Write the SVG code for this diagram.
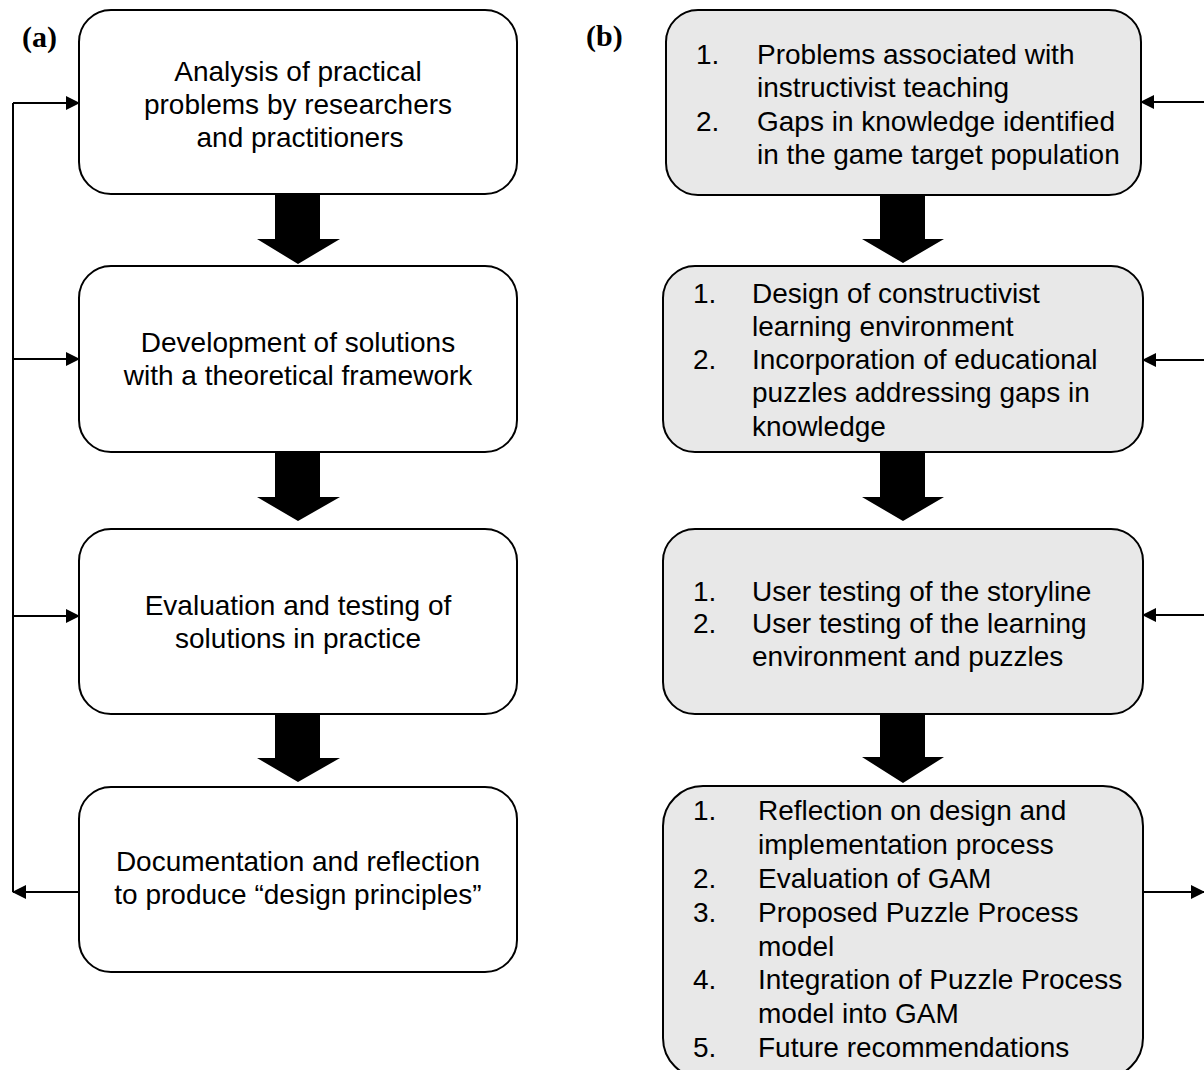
<svg xmlns="http://www.w3.org/2000/svg" width="1204" height="1070" viewBox="0 0 1204 1070">
<style>
.box{fill:#fff;stroke:#000;stroke-width:2}
.gbox{fill:#e8e8e8;stroke:#000;stroke-width:2}
.t{font-family:"Liberation Sans",Arial,sans-serif;font-size:28px;fill:#000}
.c{text-anchor:middle}
.lbl{font-family:"Liberation Serif","Times New Roman",serif;font-size:30px;font-weight:bold;fill:#000}
.ln{fill:none;stroke:#000;stroke-width:2}
.blk{fill:#000}
</style>
<defs>
<marker id="ah" markerWidth="14" markerHeight="14" refX="13" refY="7" orient="auto" markerUnits="userSpaceOnUse">
<path d="M0,0 L14,7 L0,14 Z" fill="#000"/>
</marker>
</defs>
<text class="lbl" x="22" y="47">(a)</text>
<text class="lbl" x="586" y="46">(b)</text>

<g id="a1"><rect class="box" x="79" y="10" width="438" height="184" rx="32"/>
<text class="t c" x="298" y="81">Analysis of practical</text>
<text class="t c" x="298" y="114">problems by researchers</text>
<text class="t c" x="300" y="147">and practitioners</text></g>
<g id="a2"><rect class="box" x="79" y="266" width="438" height="186" rx="32"/>
<text class="t c" x="298" y="352">Development of solutions</text>
<text class="t c" x="298" y="385">with a theoretical framework</text></g>
<g id="a3"><rect class="box" x="79" y="529" width="438" height="185" rx="32"/>
<text class="t c" x="298" y="615">Evaluation and testing of</text>
<text class="t c" x="298" y="648">solutions in practice</text></g>
<g id="a4"><rect class="box" x="79" y="787" width="438" height="185" rx="32"/>
<text class="t c" x="298" y="871">Documentation and reflection</text>
<text class="t c" x="298" y="904">to produce “design principles”</text></g>

<g id="b1"><rect class="gbox" x="666" y="10" width="475" height="185" rx="32"/>
<text class="t" x="696" y="64">1.</text><text class="t" x="757" y="64">Problems associated with</text>
<text class="t" x="757" y="97">instructivist teaching</text>
<text class="t" x="696" y="131">2.</text><text class="t" x="757" y="131">Gaps in knowledge identified</text>
<text class="t" x="757" y="164">in the game target population</text></g>
<g id="b2"><rect class="gbox" x="663" y="266" width="480" height="186" rx="32"/>
<text class="t" x="693" y="303">1.</text><text class="t" x="752" y="303">Design of constructivist</text>
<text class="t" x="752" y="336">learning environment</text>
<text class="t" x="693" y="369">2.</text><text class="t" x="752" y="369">Incorporation of educational</text>
<text class="t" x="752" y="402">puzzles addressing gaps in</text>
<text class="t" x="752" y="436">knowledge</text></g>
<g id="b3"><rect class="gbox" x="663" y="529" width="480" height="185" rx="32"/>
<text class="t" x="693" y="601">1.</text><text class="t" x="752" y="601">User testing of the storyline</text>
<text class="t" x="693" y="633">2.</text><text class="t" x="752" y="633">User testing of the learning</text>
<text class="t" x="752" y="666">environment and puzzles</text></g>
<g id="b4"><rect class="gbox" x="663" y="786" width="480" height="292" rx="40"/>
<text class="t" x="693" y="820">1.</text><text class="t" x="758" y="820">Reflection on design and</text>
<text class="t" x="758" y="854">implementation process</text>
<text class="t" x="693" y="888">2.</text><text class="t" x="758" y="888">Evaluation of GAM</text>
<text class="t" x="693" y="922">3.</text><text class="t" x="758" y="922">Proposed Puzzle Process</text>
<text class="t" x="758" y="956">model</text>
<text class="t" x="693" y="989">4.</text><text class="t" x="758" y="989">Integration of Puzzle Process</text>
<text class="t" x="758" y="1023">model into GAM</text>
<text class="t" x="693" y="1057">5.</text><text class="t" x="758" y="1057">Future recommendations</text></g>

<g id="connectors">
<path class="blk" d="M275,195 H320 V239 H340 L298,264 L257,239 H275 Z"/>
<path class="blk" d="M275,453 H320 V497 H340 L298,521 L257,497 H275 Z"/>
<path class="blk" d="M275,715 H320 V758 H340 L298,782 L257,758 H275 Z"/>
<path class="blk" d="M880,196 H925 V239 H944 L903,263 L862,239 H880 Z"/>
<path class="blk" d="M880,453 H925 V497 H944 L903,521 L862,497 H880 Z"/>
<path class="blk" d="M880,715 H925 V757 H944 L903,783 L862,757 H880 Z"/>
<path class="ln" d="M13,103 V892"/>
<path class="ln" d="M13,103 H79" marker-end="url(#ah)"/>
<path class="ln" d="M13,359 H79" marker-end="url(#ah)"/>
<path class="ln" d="M13,616 H79" marker-end="url(#ah)"/>
<path class="ln" d="M79,892 H13" marker-end="url(#ah)"/>
<path class="ln" d="M1204,102 H1141" marker-end="url(#ah)"/>
<path class="ln" d="M1204,360 H1143" marker-end="url(#ah)"/>
<path class="ln" d="M1204,615 H1143" marker-end="url(#ah)"/>
<path class="ln" d="M1143,892 H1204" marker-end="url(#ah)"/>
</g>
</svg>
